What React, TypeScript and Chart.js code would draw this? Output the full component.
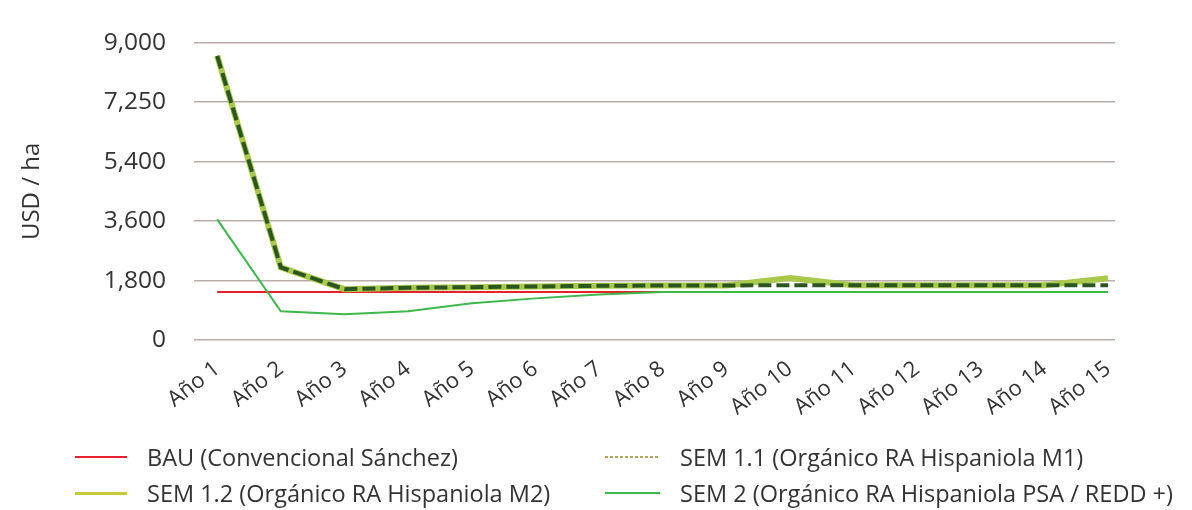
import React, { useEffect, useRef } from "react";
import { Chart, registerables } from "chart.js";

Chart.register(...registerables);

const years = [
  "Año 1", "Año 2", "Año 3", "Año 4", "Año 5", "Año 6", "Año 7", "Año 8",
  "Año 9", "Año 10", "Año 11", "Año 12", "Año 13", "Año 14", "Año 15",
];
const yTickLabels = ["0", "1,800", "3,600", "5,400", "7,250", "9,000"];

const bau = [1450, 1450, 1450, 1450, 1450, 1450, 1450, 1450, 1450, 1450, 1450, 1450, 1450, 1450, 1450];
const sem11 = [8600, 2200, 1540, 1580, 1600, 1620, 1640, 1650, 1650, 1660, 1660, 1660, 1660, 1660, 1660];
const sem12 = [8600, 2200, 1540, 1580, 1600, 1620, 1640, 1650, 1650, 1880, 1660, 1660, 1660, 1660, 1870];
const sem2 = [3650, 870, 780, 870, 1110, 1260, 1380, 1450, 1450, 1450, 1450, 1450, 1450, 1450, 1450];

const names = [
  "BAU (Convencional Sánchez)",
  "SEM 1.1 (Orgánico RA Hispaniola M1)",
  "SEM 1.2 (Orgánico RA Hispaniola M2)",
  "SEM 2 (Orgánico RA Hispaniola PSA / REDD +)",
];

const FONT = "'Open Sans', 'DejaVu Sans', sans-serif";
const TEXT = "#333333";

export default function App() {
  const ref = useRef<HTMLCanvasElement>(null);

  useEffect(() => {
    const canvas = ref.current;
    if (!canvas) return;
    Chart.defaults.font.family = FONT;
    Chart.defaults.color = TEXT;
    const pts = (arr: number[]) => arr.map((y, i) => ({ x: i + 1, y }));
    const chart = new Chart(canvas, {
      type: "line",
      data: {
        datasets: [
          {
            label: names[0],
            data: pts(bau),
            borderColor: "#e5222c",
            borderWidth: 2,
            pointRadius: 0,
            order: 3,
          },
          {
            label: names[1],
            data: pts(sem11),
            borderColor: "#2c5620",
            borderWidth: 4,
            borderDash: [13, 5],
            pointRadius: 0,
            order: 0,
          },
          {
            label: names[2],
            data: pts(sem12),
            borderColor: "#a9c94a",
            borderWidth: 6,
            pointRadius: 0,
            order: 1,
          },
          {
            label: names[3],
            data: pts(sem2),
            borderColor: "#3db84a",
            borderWidth: 2,
            pointRadius: 0,
            order: 2,
          },
        ],
      },
      options: {
        animation: false,
        responsive: false,
        maintainAspectRatio: false,
        layout: { padding: { left: 8, right: 69, top: 0, bottom: 0 } },
        plugins: { legend: { display: false }, tooltip: { enabled: false } },
        scales: {
          x: {
            type: "linear",
            min: 0.73,
            max: 15.11,
            grid: { display: false },
            border: { display: false },
            ticks: {
              stepSize: 1,
              includeBounds: false,
              autoSkip: false,
              minRotation: 38,
              maxRotation: 38,
              padding: 8,
              color: TEXT,
              font: { size: 22 },
              callback: (v: any) => {
                const n = Number(v);
                return Number.isInteger(n) && n >= 1 && n <= years.length ? years[n - 1] : "";
              },
            },
            afterFit: (s: any) => {
              s.height = 162;
            },
          },
          y: {
            min: 0,
            max: 9000,
            grid: { color: "#b9adab", lineWidth: 1.5, tickLength: 6 },
            border: { display: false },
            ticks: {
              stepSize: 1800,
              padding: 28,
              color: TEXT,
              font: { size: 24.5 },
              callback: (_v: any, i: number) => yTickLabels[i],
            },
            title: {
              display: true,
              text: "USD / ha",
              color: TEXT,
              font: { size: 24, weight: "500" },
              padding: { top: 10, bottom: 0 },
            },
            afterFit: (s: any) => {
              s.width = 192;
            },
          },
        },
      },
    } as any);
    return () => chart.destroy();
  }, []);

  const sample = (w: number, style: React.CSSProperties) => (
    <span
      style={{
        display: "inline-block",
        width: w,
        marginRight: 20,
        verticalAlign: "middle",
        ...style,
      }}
    />
  );

  const itemStyle = (left: number, top: number): React.CSSProperties => ({
    position: "absolute",
    left,
    top,
    fontFamily: FONT,
    fontSize: 23.5,
    color: TEXT,
    whiteSpace: "nowrap",
    lineHeight: "28px",
    display: "flex",
    alignItems: "center",
  });

  return (
    <div style={{ position: "relative", width: 1176, height: 502 }}>
      <canvas
        ref={ref}
        width={1184}
        height={502}
        style={{ display: "block", position: "absolute", left: -8, top: -8 }}
      />
      <div style={itemStyle(67, 435)}>
        {sample(52, { height: 2, background: "#e5222c" })}
        {names[0]}
      </div>
      <div style={itemStyle(67, 471)}>
        {sample(52, { height: 3, background: "#c8c83a" })}
        {names[2]}
      </div>
      <div style={itemStyle(597, 435)}>
        {sample(55, {
          height: 2,
          background: "repeating-linear-gradient(90deg, #b5a45e 0 3px, transparent 3px 5px)",
        })}
        {names[1]}
      </div>
      <div style={itemStyle(597, 471)}>
        {sample(55, { height: 2, background: "#3db84a" })}
        {names[3]}
      </div>
    </div>
  );
}
